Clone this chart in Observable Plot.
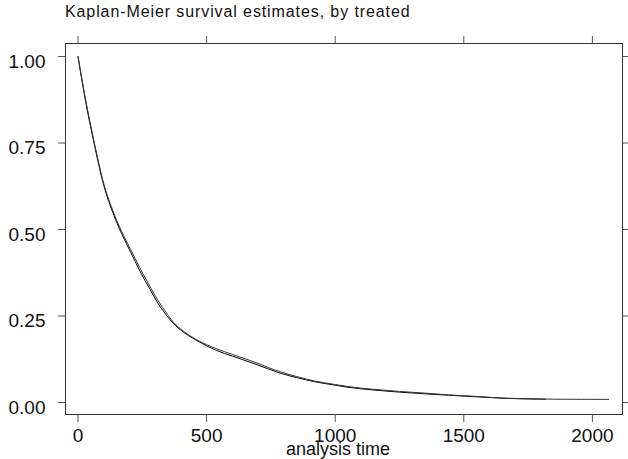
<!DOCTYPE html>
<html>
<head>
<meta charset="utf-8">
<script src="https://cdn.jsdelivr.net/npm/d3@7"></script>
<script src="https://cdn.jsdelivr.net/npm/@observablehq/plot@0.6"></script>
<style>
  body { margin: 0; background: white; font-family: "Liberation Sans", Arial, sans-serif; }
  #title { height: 26px; box-sizing: border-box; padding: 3px 0 0 65px; font-size: 16px; letter-spacing: 0.9px; line-height: 18px; color: #111; white-space: nowrap; }
</style>
</head>
<body>
<div id="title">Kaplan-Meier survival estimates, by treated</div>
<div id="chart"></div>
<script>
// treated = 0
const timesA = [0, 30, 60, 100, 140, 180, 205, 240, 280, 310, 340, 370, 400, 460, 500, 540, 600, 640, 700, 740, 790, 850, 920, 1000, 1050, 1150, 1250, 1350, 1440, 1560, 1660, 1818]
const survA  = [1.0, 0.869, 0.758, 0.628, 0.54, 0.472, 0.434, 0.381, 0.327, 0.288, 0.256, 0.229, 0.209, 0.18, 0.164, 0.15, 0.134, 0.124, 0.108, 0.097, 0.084, 0.072, 0.06, 0.05, 0.044, 0.036, 0.03, 0.025, 0.021, 0.016, 0.012, 0.0095]
// treated = 1
const timesB = [0, 30, 60, 100, 140, 180, 205, 240, 280, 310, 340, 370, 400, 460, 500, 540, 600, 640, 700, 740, 790, 850, 920, 1000, 1050, 1150, 1250, 1350, 1440, 1560, 1660, 1750, 1850, 2063]
const survB  = [1.0, 0.873, 0.763, 0.633, 0.546, 0.478, 0.442, 0.39, 0.335, 0.296, 0.263, 0.233, 0.212, 0.182, 0.167, 0.155, 0.139, 0.129, 0.113, 0.101, 0.088, 0.075, 0.062, 0.052, 0.046, 0.038, 0.032, 0.027, 0.022, 0.017, 0.0125, 0.011, 0.0095, 0.009]

const xTicks = [0, 500, 1000, 1500, 2000]
const yTicks = [0, 0.25, 0.5, 0.75, 1]

const curveA = timesA.map((t, i) => ({t, s: survA[i]}))
const curveB = timesB.map((t, i) => ({t, s: survB[i]}))

let chart = Plot.plot({
  width: 628,
  height: 433,
  marginTop: 17,
  marginBottom: 45,
  marginLeft: 65,
  marginRight: 6,
  style: {fontFamily: '"Liberation Sans", Arial, sans-serif', background: "white"},
  x: {domain: [-48.6, 2117]},
  y: {domain: [-0.0347, 1.0376]},
  marks: [
    Plot.frame({stroke: "#333"}),
    // ticks
    Plot.axisY(yTicks, {anchor: "left", tickSize: 7, fill: "none", stroke: "#555", label: null}),
    Plot.axisY(yTicks, {anchor: "right", tickSize: 7, fill: "none", stroke: "#555", label: null}),
    Plot.axisX(xTicks, {anchor: "bottom", tickSize: 8, fill: "none", stroke: "#555", label: null}),
    Plot.axisX(xTicks, {anchor: "top", tickSize: 8, fill: "none", stroke: "#555", label: null}),
    // tick labels
    Plot.axisY(yTicks, {anchor: "left", tickSize: 7, tickPadding: 13, stroke: "none", fill: "#111",
      fontSize: 19, dy: 5, tickFormat: d3.format(".2f"), label: null}),
    Plot.axisX(xTicks, {anchor: "bottom", tickSize: 8, tickPadding: 6, stroke: "none", fill: "#111",
      fontSize: 19, tickFormat: d => String(d), label: null}),
    Plot.text(["analysis time"], {frameAnchor: "bottom", dy: 40, dx: -6, fontSize: 18, fill: "#111"}),
    Plot.line(curveA, {x: "t", y: "s", stroke: "black", strokeWidth: 1, curve: "monotone-x"}),
    Plot.line(curveB, {x: "t", y: "s", stroke: "#333", strokeWidth: 1, curve: "monotone-x"})
  ]
})

d3.select('#chart').append(() => chart)
</script>
</body>
</html>
